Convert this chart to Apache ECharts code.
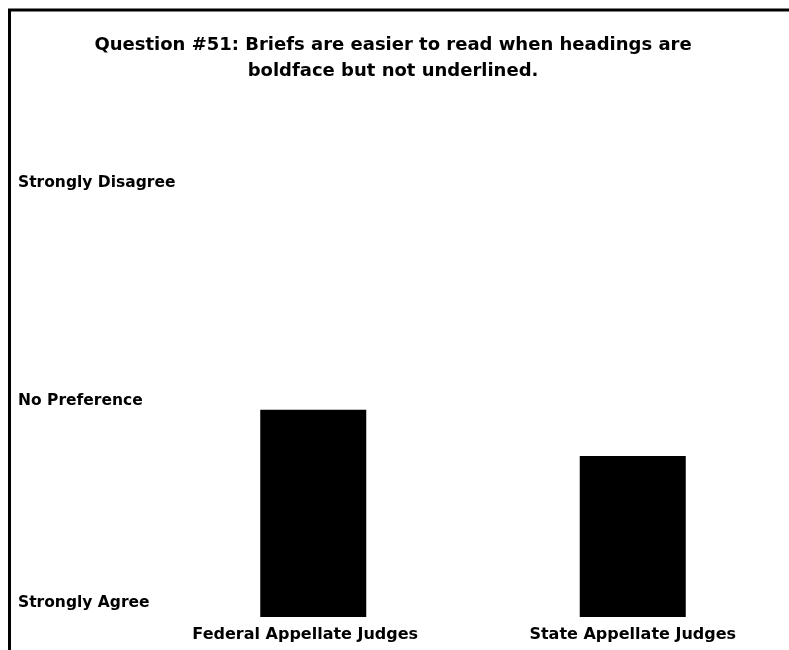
<!DOCTYPE html>
<html>
<head>
<meta charset="utf-8">
<script src="https://cdn.jsdelivr.net/npm/echarts@6/dist/echarts.min.js"></script>
<style>
  html, body { margin: 0; padding: 0; background: #fff; overflow: hidden; }
  #main { width: 793px; height: 650px; }
</style>
</head>
<body>
<div id="main"></div>
<script>
// 题目与数据
var titleText = 'Question #51: Briefs are easier to read when headings are\nboldface but not underlined.';
var groups = ['Federal Appellate Judges', 'State Appellate Judges'];
var meanScores = [2.97, 2.53];
// 1 = Strongly Agree, 3 = No Preference, 5 = Strongly Disagree
var scaleValues = [1, 3, 5];
var scaleLabels = ['Strongly Agree', 'No Preference', 'Strongly Disagree'];

var labelFont = 'DejaVu Sans';

// 画布比可视区略宽，右侧类目带延伸到窗口外
const option = {
    backgroundColor: '#fff',
    animation: false,
    title: {
        text: titleText,
        left: 388,
        top: 27,
        textAlign: 'center',
        textStyle: {
            fontFamily: labelFont,
            fontSize: 18,
            fontWeight: 'bold',
            color: '#000',
            lineHeight: 26
        }
    },
    // 外框
    graphic: [{
        type: 'rect',
        shape: { x: 9.5, y: 10, width: 820, height: 700 },
        style: { fill: 'none', stroke: '#000', lineWidth: 3 },
        silent: true
    }],
    grid: {
        left: 153.5,
        right: 0.5,
        top: 196,
        bottom: 33
    },
    xAxis: {
        type: 'category',
        data: groups,
        axisLine: { show: false },
        axisTick: { show: false },
        axisLabel: {
            margin: 10,
            interval: 0,
            color: '#000',
            fontFamily: labelFont,
            fontSize: 16,
            fontWeight: 'bold',
            formatter: function (v, i) {
                return i === 0 ? '{f|' + v + '}' : v;
            },
            rich: {
                f: { padding: [0, 16, 0, 0] }
            }
        }
    },
    yAxis: {
        type: 'value',
        min: 1,
        max: 5,
        interval: 1,
        splitLine: { show: false },
        axisLine: { show: false },
        axisTick: { show: false },
        axisLabel: {
            margin: 135.5,
            align: 'left',
            color: '#000',
            fontFamily: labelFont,
            fontSize: 15.5,
            fontWeight: 'bold',
            formatter: function (v) {
                var i = scaleValues.indexOf(v);
                if (i < 0) return '';
                return '{s' + i + '|' + scaleLabels[i] + '}';
            },
            rich: {
                s0: { padding: [0, 0, 28, 0] },
                s1: { padding: [0, 0, 12, 0] },
                s2: { padding: [0, 0, 26, 0] }
            }
        }
    },
    series: [{
        type: 'bar',
        data: meanScores,
        barWidth: 106,
        itemStyle: { color: '#000' }
    }]
};

const myChart = echarts.init(document.getElementById('main'));
myChart.setOption(option);
window.addEventListener('resize', () => {
    myChart.resize();
});
</script>
</body>
</html>
